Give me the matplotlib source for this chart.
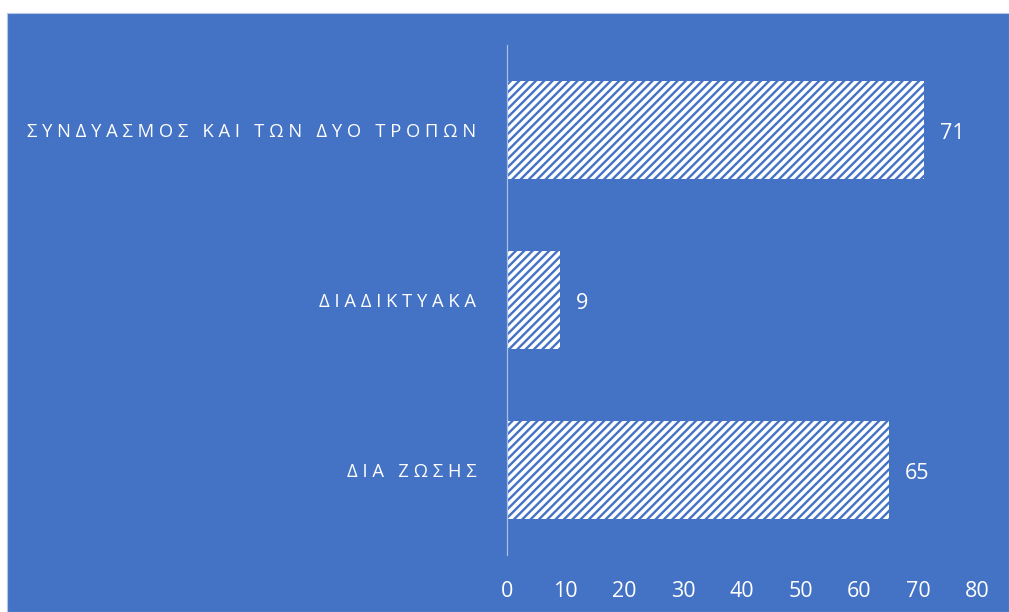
import matplotlib.pyplot as plt
from matplotlib.patches import Rectangle

categories = ["ΔΙΑ ΖΩΣΗΣ", "ΔΙΑΔΙΚΤΥΑΚΑ", "ΣΥΝΔΥΑΣΜΟΣ ΚΑΙ ΤΩΝ ΔΥΟ ΤΡΟΠΩΝ"]
values = [65, 9, 71]
x_ticks = [0, 10, 20, 30, 40, 50, 60, 70, 80]

BLUE = "#4472C4"


def spaced(text):
    # Excel-style letter spacing
    return "   ".join(" ".join(word) for word in text.split(" "))


plt.rcParams["font.family"] = ["Open Sans", "DejaVu Sans"]
plt.rcParams["hatch.linewidth"] = 1.7
plt.rcParams["hatch.color"] = BLUE

fig = plt.figure(figsize=(10.09, 6.12), dpi=100)
fig.patch.set_facecolor("white")
fig.patches.append(Rectangle((7 / 1009, 0), 1 - 7 / 1009, 1 - 13 / 612,
                             transform=fig.transFigure, facecolor=BLUE,
                             edgecolor="#B4C7E7", linewidth=0.8, zorder=-1))

ax = fig.add_axes([507 / 1009, 57 / 612, 470 / 1009, 510 / 612])
ax.set_facecolor("none")

y = range(len(categories))
ax.barh(y, values, height=0.58, color="white", edgecolor=BLUE,
        hatch="////", linewidth=0)
for yi, v in zip(y, values):
    ax.text(v + 2.7, yi - 0.02, str(v), va="center", ha="left", color="white", fontsize=15.5)

ax.set_xlim(0, 80)
ax.set_ylim(-0.5, 2.5)
ax.set_xticks(x_ticks)
ax.set_yticks(list(y))
ax.set_yticklabels([spaced(c) for c in categories])
ax.tick_params(axis="x", length=0, pad=19, labelsize=15.5, colors="white")
ax.tick_params(axis="y", length=0, pad=22, labelsize=13.2, colors="white")

for side in ["top", "right", "bottom"]:
    ax.spines[side].set_visible(False)
ax.spines["left"].set_color("#A9BFE6")
ax.spines["left"].set_linewidth(0.9)

fig.savefig("out.png", dpi=100, facecolor=fig.get_facecolor())
